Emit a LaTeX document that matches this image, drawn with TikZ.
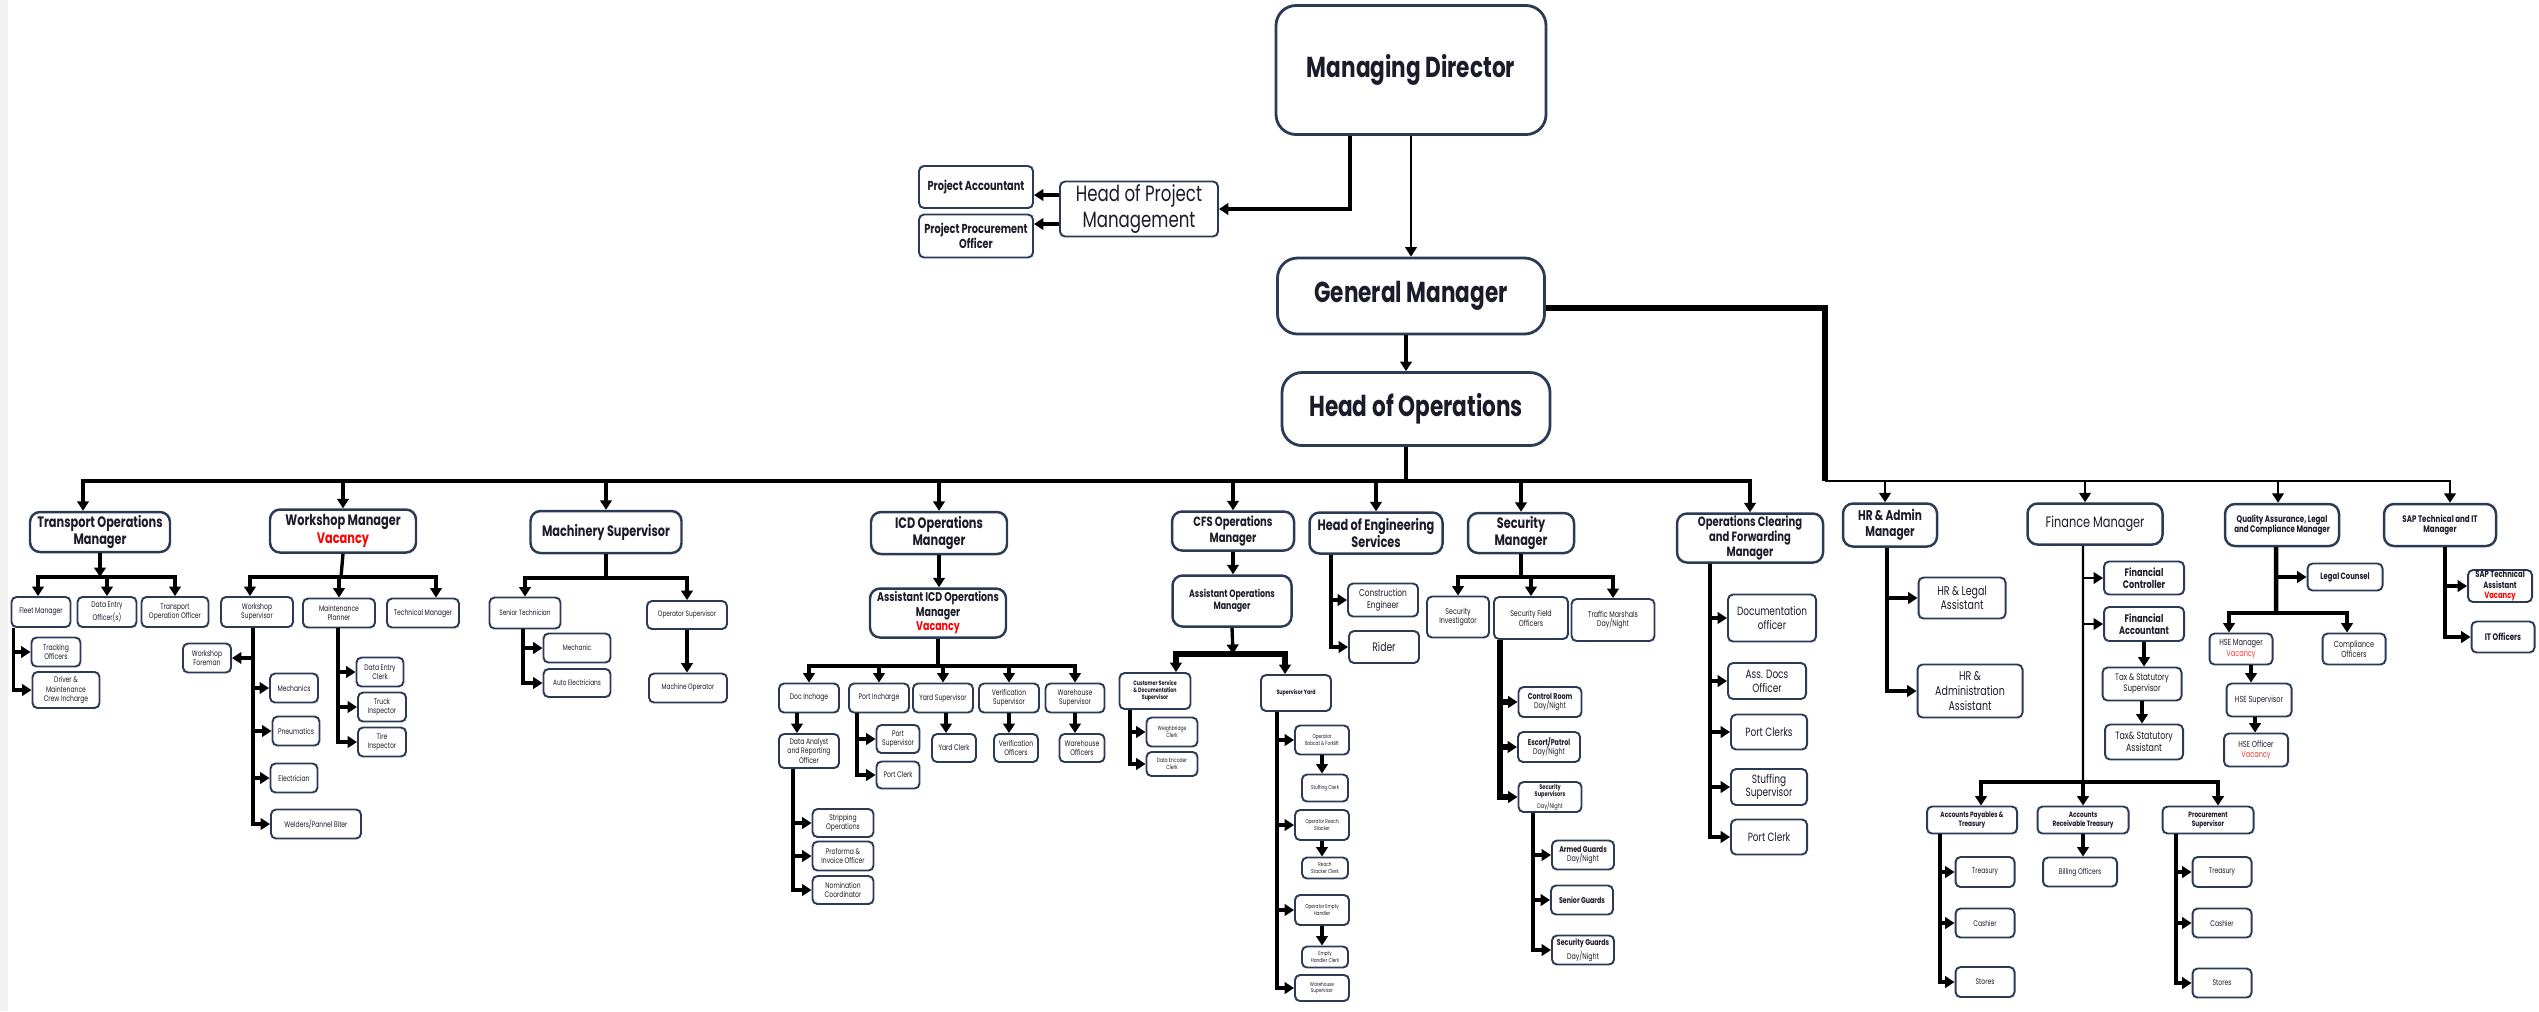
\documentclass[tikz,border=0pt]{standalone}
\usepackage{fontspec}
\setmainfont{Poppins}[FakeStretch=0.75]
\usetikzlibrary{arrows.meta,positioning}
\definecolor{navy}{HTML}{2B3A55}
\definecolor{ink}{HTML}{1B1B2A}
\newcommand\fs[1]{\fontsize{#1}{\dimexpr#1*115/100\relax}\selectfont}
\newcommand\vac{\textcolor{red}{Vacancy}}
\tikzset{
	box/.style={draw=navy,line width=0.55pt,rounded corners=0.5mm,fill=white,align=center,inner sep=0pt,text=ink},
	mgr/.style={box,line width=0.7pt,rounded corners=1mm},
	big/.style={box,line width=0.8pt,rounded corners=2mm,font=\fs{8.2pt}\bfseries},
	wh/.style 2 args={minimum width=#1*0.1mm,minimum height=#2*0.1mm},
	fz/.style={font=\fs{#1}},
	fb/.style={font=\fs{#1}\bfseries},
	arr/.style={draw=black,line width=0.95pt,-{Triangle[length=2.7pt,width=3.3pt]}},
	ln/.style={draw=black,line width=0.95pt},
	thk/.style={draw=black,line width=1.6pt}
}
\begin{document}
\begin{tikzpicture}[x=0.1mm,y=-0.1mm]
	\useasboundingbox (0,0) rectangle (2539,1011);
	\fill[gray!10] (0,0) rectangle (8,1011);

	% top of the chart
	\node[big,wh={270}{129}] (md) at (1411,70) {Managing Director};
	\node[box,wh={158}{55},fz=6.3pt] (hpm) at (1139,209) {Head of Project\\Management};
	\node[box,wh={114}{42},fb=3.7pt] (pacc) at (976,187) {Project Accountant};
	\node[box,wh={114}{43},fb=3.7pt] (ppo) at (976,236) {Project Procurement\\Officer};
	\node[big,wh={267}{76}] (gm) at (1411,296) {General Manager};
	\node[big,wh={268}{73}] (hoo) at (1416,409) {Head of Operations};

	% managers
	\node[mgr,wh={140}{40},fb=4.3pt] (tom) at (100,532) {Transport Operations\\Manager};
	\node[mgr,wh={146}{43},fb=4.3pt] (wm) at (343,531) {Workshop Manager\\\vac};
	\node[mgr,wh={151}{42},fb=4.3pt] (ms) at (606,532) {Machinery Supervisor};
	\node[mgr,wh={136}{42},fb=4.3pt] (icd) at (939,533) {ICD Operations\\Manager};
	\node[mgr,wh={122}{39},fb=3.8pt] (cfs) at (1233,531) {CFS Operations\\Manager};
	\node[mgr,wh={133}{41},fb=4.3pt] (hoes) at (1376,533) {Head of Engineering\\Services};
	\node[mgr,wh={106}{40},fb=4.3pt] (secm) at (1521,533) {Security\\Manager};
	\node[mgr,wh={146}{49},fb=3.8pt] (ocf) at (1750,538) {Operations Clearing\\and Forwarding\\Manager};
	\node[mgr,wh={94}{43},fb=4pt] (hra) at (1890,525) {HR \& Admin\\Manager};
	\node[mgr,wh={135}{41},fz=4.3pt] (finm) at (2095,524) {Finance Manager};
	\node[mgr,wh={114}{42},fb=2.7pt] (qam) at (2282,525) {Quality Assurance, Legal\\and Compliance Manager};
	\node[mgr,wh={112}{42},fb=2.7pt] (sapm) at (2440,525) {SAP Technical and IT\\Manager};

	% transport
	\node[box,wh={59}{30},fz=2.3pt] (fleet) at (41,612) {Fleet Manager};
	\node[box,wh={59}{30},fz=2.3pt] (deo) at (107,612) {Data Entry\\Officer(s)};
	\node[box,wh={67}{30},fz=2.3pt] (too) at (175,612) {Transport\\Operation Officer};
	\node[box,wh={49}{29},fz=2.3pt] (track) at (56,652) {Tracking\\Officers};
	\node[box,wh={67}{36},fz=2.3pt] (driver) at (66,690) {Driver \&\\Maintenance\\Crew Incharge};

	% workshop
	\node[box,wh={72}{30},fz=2.3pt] (wsup) at (257,612) {Workshop\\Supervisor};
	\node[box,wh={72}{29},fz=2.3pt] (mplan) at (339,613) {Maintenance\\Planner};
	\node[box,wh={72}{29},fz=2.3pt] (techm) at (423,613) {Technical Manager};
	\node[box,wh={48}{29},fz=2.3pt] (wfore) at (207,658) {Workshop\\Foreman};
	\node[box,wh={48}{29},fz=2.3pt] (mech) at (294,688) {Mechanics};
	\node[box,wh={47}{29},fz=2.3pt] (pneu) at (296,731) {Pneumatics};
	\node[box,wh={47}{29},fz=2.3pt] (elec) at (294,778) {Electrician};
	\node[box,wh={90}{29},fz=2.3pt] (weld) at (316,824) {Welders/Pannel Biter};
	\node[box,wh={47}{29},fz=2.3pt] (dec) at (380,672) {Data Entry\\Clerk};
	\node[box,wh={48}{29},fz=2.3pt] (truck) at (382,707) {Truck\\Inspector};
	\node[box,wh={48}{29},fz=2.3pt] (tire) at (382,742) {Tire\\Inspector};

	% machinery
	\node[box,wh={71}{31},fz=2.2pt] (stech) at (525,613) {Senior Technician};
	\node[box,wh={80}{28},fz=2.2pt] (opsup) at (687,615) {Operator Supervisor};
	\node[box,wh={67}{29},fz=2.2pt] (mechc) at (577,648) {Mechanic};
	\node[box,wh={67}{28},fz=2.2pt] (autoel) at (577,683) {Auto Electricians};
	\node[box,wh={78}{29},fz=2.2pt] (mop) at (688,688) {Machine Operator};

	% ICD
	\node[mgr,wh={136}{49},fb=3.6pt] (aicd) at (938,613) {Assistant ICD Operations\\Manager\\\vac};
	\node[box,wh={60}{29},fz=2.3pt] (docin) at (809,698) {Doc Inchage};
	\node[box,wh={60}{29},fz=2.3pt] (portin) at (879,698) {Port Incharge};
	\node[box,wh={60}{29},fz=2.3pt] (yardsup) at (943,698) {Yard Supervisor};
	\node[box,wh={60}{29},fz=2.3pt] (versup) at (1009,698) {Verification\\Supervisor};
	\node[box,wh={59}{29},fz=2.3pt] (whsup) at (1075,698) {Warehouse\\Supervisor};
	\node[box,wh={60}{34},fz=2.3pt] (dataan) at (809,751) {Data Analyst\\and Reporting\\Officer};
	\node[box,wh={43}{28},fz=2.3pt] (portsup) at (898,739) {Port\\Supervisor};
	\node[box,wh={43}{27},fz=2.3pt] (portclk) at (898,775) {Port Clerk};
	\node[box,wh={44}{28},fz=2.3pt] (yardclk) at (954,748) {Yard Clerk};
	\node[box,wh={44}{28},fz=2.3pt] (verof) at (1016,748) {Verification\\Officers};
	\node[box,wh={45}{28},fz=2.3pt] (whof) at (1082,748) {Warehouse\\Officers};
	\node[box,wh={61}{28},fz=2.3pt] (strip) at (843,823) {Stripping\\Operations};
	\node[box,wh={61}{29},fz=2.3pt] (profo) at (843,856) {Proforma \&\\Invoice Officer};
	\node[box,wh={61}{28},fz=2.3pt] (nomin) at (843,890) {Nomination\\Coordinator};

	% CFS
	\node[mgr,wh={119}{51},fb=3pt] (aops) at (1232,601) {Assistant Operations\\Manager};
	\node[box,wh={71}{36},fb=1.8pt] (cusd) at (1155,691) {Customer Service\\\& Documentation\\Supervisor};
	\node[box,wh={70}{36},fb=1.8pt] (supy) at (1296,693) {Supervisor Yard};
	\node[box,wh={51}{29},fz=1.7pt] (wbc) at (1172,732) {Weighbridge\\Clerk};
	\node[box,wh={51}{24},fz=1.7pt] (dec2) at (1172,764) {Data Encoder\\Clerk};
	\node[box,wh={54}{29},fz=1.6pt] (obf) at (1322,740) {Operator\\Bobcat \& Forklift};
	\node[box,wh={46}{27},fz=1.6pt] (stclk) at (1325,788) {Stuffing Clerk};
	\node[box,wh={54}{30},fz=1.6pt] (ors) at (1322,825) {Operator Reach\\Stacker};
	\node[box,wh={46}{21},fz=1.6pt] (rsclk) at (1325,868) {Reach\\Stacker Clerk};
	\node[box,wh={54}{30},fz=1.6pt] (oeh) at (1322,910) {Operator Empty\\Handler};
	\node[box,wh={46}{21},fz=1.6pt] (ehclk) at (1325,957) {Empty\\Handler Clerk};
	\node[box,wh={54}{26},fz=1.6pt] (whsup2) at (1322,988) {Warehouse\\Supervisor};

	% engineering and security
	\node[box,wh={70}{33},fz=2.8pt] (coneng) at (1383,600) {Construction\\Engineer};
	\node[box,wh={70}{32},fz=3.5pt] (rider) at (1384,647) {Rider};
	\node[box,wh={62}{41},fz=2.4pt] (secinv) at (1458,617) {Security\\Investigator};
	\node[box,wh={74}{42},fz=2.4pt] (secfo) at (1531,618) {Security Field\\Officers};
	\node[box,wh={83}{42},fz=2.4pt] (traffic) at (1613,620) {Traffic Marshals\\Day/Night};
	\node[box,wh={63}{30},fz=2.4pt] (ctrl) at (1550,702) {\textbf{Control Room}\\Day/Night};
	\node[box,wh={62}{30},fz=2.4pt] (escort) at (1549,747) {\textbf{Escort/Patrol}\\Day/Night};
	\node[box,wh={63}{30},fz=1.9pt] (secsup) at (1550,797) {\textbf{Security}\\\textbf{Supervisors}\\Day/Night};
	\node[box,wh={62}{29},fz=2.4pt] (armed) at (1583,855) {\textbf{Armed Guards}\\Day/Night};
	\node[box,wh={62}{29},fb=2.4pt] (senior) at (1582,900) {Senior Guards};
	\node[box,wh={62}{29},fz=2.4pt] (secgd) at (1583,950) {\textbf{Security Guards}\\Day/Night};

	% clearing and forwarding
	\node[box,wh={88}{47},fz=3.4pt] (docof) at (1772,618) {Documentation\\officer};
	\node[box,wh={78}{36},fz=3.4pt] (assdoc) at (1767,681) {Ass. Docs\\Officer};
	\node[box,wh={76}{35},fz=3.4pt] (portclks) at (1769,732) {Port Clerks};
	\node[box,wh={76}{36},fz=3.4pt] (stufsup) at (1769,787) {Stuffing\\Supervisor};
	\node[box,wh={76}{35},fz=3.4pt] (portclk2) at (1769,837) {Port Clerk};

	% HR and finance
	\node[box,wh={87}{41},fz=3.6pt] (hrleg) at (1962,598) {HR \& Legal\\Assistant};
	\node[box,wh={105}{53},fz=3.6pt] (hradm) at (1970,691) {HR \&\\Administration\\Assistant};
	\node[box,wh={80}{33},fb=3.1pt] (fctrl) at (2144,578) {Financial\\Controller};
	\node[box,wh={80}{34},fb=3.1pt] (facc) at (2144,624) {Financial\\Accountant};
	\node[box,wh={79}{33},fz=2.7pt] (taxsup) at (2142,684) {Tax \& Statutory\\Supervisor};
	\node[box,wh={78}{35},fz=3pt] (taxass) at (2144,742) {Tax\& Statutory\\Assistant};
	\node[box,wh={90}{27},fb=2.2pt] (apt) at (1972,820) {Accounts Payables \&\\Treasury};
	\node[box,wh={91}{27},fb=2.2pt] (art) at (2083,820) {Accounts\\Receivable Treasury};
	\node[box,wh={91}{27},fb=2.2pt] (procs) at (2208,820) {Procurement\\Supervisor};
	\node[box,wh={59}{30},fz=2.3pt] (tre1) at (1985,872) {Treasury};
	\node[box,wh={59}{29},fz=2.3pt] (cash1) at (1985,923) {Cashier};
	\node[box,wh={59}{30},fz=2.3pt] (sto1) at (1985,982) {Stores};
	\node[box,wh={74}{29},fz=2.3pt] (bill) at (2080,872) {Billing Officers};
	\node[box,wh={59}{30},fz=2.3pt] (tre2) at (2222,872) {Treasury};
	\node[box,wh={59}{29},fz=2.3pt] (cash2) at (2222,923) {Cashier};
	\node[box,wh={59}{29},fz=2.3pt] (sto2) at (2222,983) {Stores};

	% QA and SAP
	\node[box,wh={75}{27},fb=2.6pt] (legal) at (2345,577) {Legal Counsel};
	\node[box,wh={63}{31},fz=2.5pt] (hsem) at (2241,649) {HSE Manager\\\textcolor{red!80}{Vacancy}};
	\node[box,wh={63}{31},fz=2.5pt] (compl) at (2354,649) {Compliance\\Officers};
	\node[box,wh={65}{33},fz=2.5pt] (hsesup) at (2259,700) {HSE Supervisor};
	\node[box,wh={64}{33},fz=2.5pt] (hseoff) at (2256,750) {HSE Officer\\\textcolor{red!80}{Vacancy}};
	\node[box,wh={64}{32},fb=2.6pt] (sapta) at (2500,586) {SAP Technical\\Assistant\\\vac};
	\node[box,wh={63}{31},fb=2.7pt] (itof) at (2503,637) {IT Officers};

	% connectors
	\draw[arr,line width=0.6pt] (md.south) -- (md.south |- gm.north);
	\draw[arr,line width=1.3pt] ([xshift=-6.1mm]md.south) |- (hpm.east);
	\draw[arr] ([yshift=1.4mm]hpm.west) -- ([yshift=1.4mm]hpm.west -| pacc.east);
	\draw[arr] ([yshift=-1.5mm]hpm.west) -- ([yshift=-1.5mm]hpm.west -| ppo.east);
	\draw[arr] ([xshift=-0.5mm]gm.south) -- ([xshift=-0.5mm]gm.south |- hoo.north);

	\coordinate (lbus) at (1406,481);
	\draw[ln,line width=1.1pt] ([xshift=-1mm]hoo.south) -- (lbus);
	\draw[arr,line width=1.1pt] (lbus) -| ([xshift=-1.7mm]tom.north);
	\foreach \n in {wm,ms,icd,cfs,hoes,secm,ocf} \draw[arr,line width=1.1pt] (lbus) -| (\n.north);

	\coordinate (rbus) at (1825,481);
	\draw[thk] ([yshift=-1.2mm]gm.east) -| (rbus);
	\draw[arr,line width=0.8pt] (rbus) -| ([xshift=-0.5mm]hra.north);
	\draw[arr,line width=0.8pt] (rbus) -| ([xshift=-1mm]finm.north);
	\draw[arr,line width=0.8pt] (rbus) -| ([xshift=-0.4mm]qam.north);
	\draw[arr,line width=0.8pt] (rbus) -| ([xshift=1mm]sapm.north);

	\coordinate (tbus) at (100,577);
	\draw[arr] (tom.south) -- (tbus);
	\draw[arr] (tbus) -| ([xshift=-0.3mm]fleet.north);
	\foreach \n in {deo,too} \draw[arr] (tbus) -| (\n.north);
	\foreach \n in {track,driver} \draw[arr] ([xshift=0.3mm]fleet.south west) |- (\n.west);

	\coordinate (wbus) at (341,577);
	\draw[ln] (wm.south) -- (wbus);
	\draw[arr] (wbus) -| ([xshift=-0.7mm]wsup.north);
	\draw[arr] (wbus) -| (mplan.north);
	\draw[arr] (wbus) -| ([xshift=1.3mm]techm.north);
	\draw[arr] ([xshift=-0.4mm]wsup.south) |- (wfore.east);
	\foreach \n in {mech,pneu,elec,weld} \draw[arr] ([xshift=-0.4mm]wsup.south) |- (\n.west);
	\foreach \n in {dec,truck,tire} \draw[arr] ([xshift=-0.1mm]mplan.south) |- (\n.west);

	\coordinate (mbus) at (606,578);
	\draw[ln,line width=1.2pt] (ms.south) -- (mbus);
	\foreach \n in {stech,opsup} \draw[arr] (mbus) -| (\n.north);
	\foreach \n in {mechc,autoel} \draw[arr] ([xshift=-0.2mm]stech.south) |- (\n.west);
	\draw[arr] (opsup.south) -- (opsup.south |- mop.north);

	\draw[arr] (icd.south) -- (icd.south |- aicd.north);
	\coordinate (ibus) at (938,666);
	\draw[ln] (aicd.south) -- (ibus);
	\foreach \n in {docin,portin,yardsup,versup,whsup} \draw[arr] (ibus) -| (\n.north);
	\draw[arr] ([xshift=-1.2mm]docin.south) -- ([xshift=-1.2mm]docin.south |- dataan.north);
	\foreach \n in {strip,profo,nomin} \draw[arr] ([xshift=-1.6mm]dataan.south) |- (\n.west);
	\foreach \n in {portsup,portclk} \draw[arr] ([xshift=-2.2mm]portin.south) |- (\n.west);
	\draw[arr] ([xshift=0.3mm]yardsup.south) -- ([xshift=0.3mm]yardsup.south |- yardclk.north);
	\draw[arr] (versup.south) -- (versup.south |- verof.north);
	\draw[arr] (whsup.south) -- (whsup.south |- whof.north);

	\draw[arr] (cfs.south) -- (cfs.south |- aops.north);
	\coordinate (cbus) at (1233,654);
	\draw[arr] (aops.south) -- (cbus);
	\draw[arr,line width=1.5pt] (cbus) -| ([xshift=2.1mm]cusd.north);
	\draw[arr,line width=1.5pt] (cbus) -| ([xshift=-1.1mm]supy.north);
	\foreach \n in {wbc,dec2} \draw[arr] ([xshift=-2.5mm]cusd.south) |- (\n.west);
	\foreach \n in {obf,ors,oeh,whsup2} \draw[arr] ([xshift=-1.9mm]supy.south) |- (\n.west);
	\draw[arr] (obf.south) -- (obf.south |- stclk.north);
	\draw[arr] (ors.south) -- (ors.south |- rsclk.north);
	\draw[arr] (oeh.south) -- (oeh.south |- ehclk.north);

	\foreach \n in {coneng,rider} \draw[arr,line width=1.2pt] ([xshift=-4.5mm]hoes.south) |- (\n.west);

	\coordinate (sbus) at (1521,577);
	\draw[ln] (secm.south) -- (sbus);
	\foreach \n in {secinv,secfo,traffic} \draw[arr] (sbus) -| (\n.north);
	\foreach \n in {ctrl,escort,secsup} \draw[arr,line width=1.5pt] ([xshift=-3.1mm]secfo.south) |- (\n.west);
	\foreach \n in {armed,senior,secgd} \draw[arr] ([xshift=-1.7mm]secsup.south) |- (\n.west);

	\foreach \n in {docof,assdoc,portclks,stufsup,portclk2} \draw[arr] ([xshift=-4mm]ocf.south) |- (\n.west);

	\foreach \n in {hrleg,hradm} \draw[arr,line width=1.3pt] ([xshift=-0.3mm]hra.south) |- (\n.west);

	\coordinate (fbus) at (2083,782);
	\draw[ln,line width=0.6pt] ([xshift=-1.2mm]finm.south) -- (fbus);
	\foreach \n in {fctrl,facc} \draw[arr,line width=0.6pt] ([xshift=-1.2mm]finm.south) |- (\n.west);
	\draw[arr] (facc.south) -- (facc.south |- taxsup.north);
	\draw[arr] (taxsup.south) -- (taxsup.south |- taxass.north);
	\draw[arr,line width=1.2pt] (fbus) -| ([xshift=0.9mm]apt.north);
	\draw[arr,line width=1.2pt] (fbus) -| (art.north);
	\draw[arr,line width=1.2pt] (fbus) -| ([xshift=1mm]procs.north);
	\foreach \n in {tre1,cash1,sto1} \draw[arr] ([xshift=-3.2mm]apt.south) |- (\n.west);
	\draw[arr] (art.south) -- (art.south |- bill.north);
	\foreach \n in {tre2,cash2,sto2} \draw[arr] ([xshift=-3.2mm]procs.south) |- (\n.west);

	\coordinate (qbus) at (2276,613);
	\draw[ln,line width=1.3pt] ([xshift=-0.6mm]qam.south) -- (qbus);
	\draw[arr,line width=1.3pt] ([xshift=-0.6mm]qam.south) |- (legal.west);
	\draw[arr,line width=1.3pt] (qbus) -| ([xshift=-1.2mm]hsem.north);
	\draw[arr,line width=1.3pt] (qbus) -| ([xshift=-0.7mm]compl.north);
	\draw[arr] ([xshift=1mm]hsem.south) -- ([xshift=1mm]hsem.south |- hsesup.north);
	\draw[arr] ([xshift=-0.4mm]hsesup.south) -- ([xshift=-0.4mm]hsesup.south |- hseoff.north);

	\foreach \n in {sapta,itof} \draw[arr,line width=1.3pt] ([xshift=0.5mm]sapm.south) |- (\n.west);
\end{tikzpicture}
\end{document}
